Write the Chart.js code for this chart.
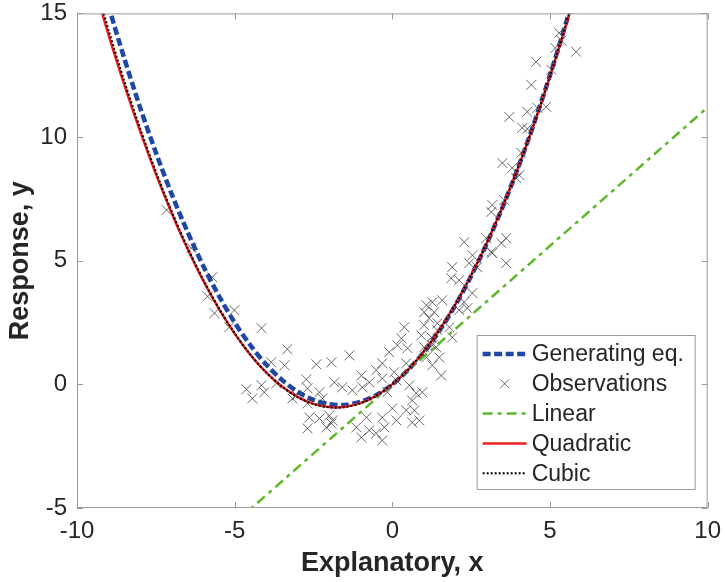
<!DOCTYPE html>
<html>
<head>
<meta charset="utf-8">
<script src="https://cdn.jsdelivr.net/npm/chart.js@4.4.0/dist/chart.umd.min.js"></script>
<style>
  html, body { margin: 0; padding: 0; background: #ffffff; overflow: hidden; }
  #wrap { width: 725px; height: 582px; overflow: hidden; position: relative; }
  #c { position: absolute; left: 0; top: -11px; }
</style>
</head>
<body>
<div id="wrap"><canvas id="c" width="730" height="593"></canvas></div>
<script>
// ---- data ----
const xTicks = [-10, -5, 0, 5, 10];
const yTicks = [-5, 0, 5, 10, 15];
const seriesNames = ['Generating eq.', 'Observations', 'Linear', 'Quadratic', 'Cubic'];

const curveX = [-9.5, -9, -8.5, -8, -7.5, -7, -6.5, -6, -5.5, -5, -4.5, -4, -3.5, -3, -2.5, -2, -1.5, -1, -0.5, 0,
                 0.5, 1, 1.5, 2, 2.5, 3, 3.5, 4, 4.5, 5, 5.5, 6];
const genY   = [17.58, 15.30, 13.18, 11.20, 9.38, 7.70, 6.18, 4.80, 3.58, 2.50, 1.58, 0.80, 0.18, -0.30, -0.63, -0.80, -0.83, -0.70, -0.43, 0.00,
                 0.58, 1.30, 2.18, 3.20, 4.38, 5.70, 7.18, 8.80, 10.58, 12.50, 14.58, 16.80];
const quadY  = [16.29, 14.13, 12.11, 10.24, 8.51, 6.93, 5.49, 4.20, 3.05, 2.05, 1.19, 0.48, -0.09, -0.51, -0.79, -0.92, -0.91, -0.75, -0.45, 0.00,
                 0.59, 1.33, 2.21, 3.24, 4.41, 5.73, 7.19, 8.80, 10.55, 12.45, 14.49, 16.68];
const cubicY = [16.55, 14.33, 12.26, 10.36, 8.60, 7.00, 5.54, 4.24, 3.08, 2.07, 1.20, 0.48, -0.09, -0.52, -0.80, -0.93, -0.92, -0.76, -0.45, 0.00,
                 0.59, 1.33, 2.21, 3.24, 4.41, 5.73, 7.19, 8.80, 10.56, 12.47, 14.52, 16.72];
const linX = [-10, 10];
const linY = [-11.2, 11.2];

const obsX = [-7.16, -6.37, -5.71, -5.86, -5.64, -5.01, -5.17, -4.15, -3.33, -3.84, -3.42, -3.68, -4.15, -4.63, -4.44, -4.06, -3.17,
              -2.41, -1.93, -2.73, -1.84, -2.69, -3.04, -2.31, -2.22, -2.69, -2.63, -2.31, -2.00, -2.69, -2.09, -1.90, -1.36,
              0.38, 1.01, 0.29, 0.92, 0.16, -0.10, 0.48, -0.32, -0.51, 0.44, -0.32, -0.98, -0.73, -1.59, -1.27, -0.95, 0.13, 0.54,
              -0.16, 0.76, 0.95, 0.63, 0.00, 0.44, 0.70, 0.86, -0.32, -0.82, -1.14, -0.73, -0.51, -0.25, 0.13, -0.98, -1.93, 0.63,
              -0.32, 0.06,
              2.28, 2.54, 3.14, 1.90, 2.44, 2.69, 1.87, 2.12, 2.54, 2.28, 1.58, 1.27, 1.08, 1.01, 1.33, 1.17, 1.43, 1.81, 1.90,
              1.43, 1.24, 1.27, 1.01, 1.08, 1.27, 1.55, 2.12, 2.38, 1.49, 1.39,
              5.29, 5.83, 4.56, 5.04, 4.41, 4.28, 4.60, 4.88, 3.71, 4.12, 4.28, 4.09, 3.49, 3.80, 4.03, 3.93, 3.17, 3.55, 3.14,
              2.98, 3.61, 3.46, 3.17, 3.61, 5.36, 5.17];
const obsY = [7.05, 5.51, 4.33, 3.56, 2.88, 3.00, 2.31, 2.27, 1.42, 0.89, 0.77, 0.04, -0.04, -0.20, -0.57, -0.32, -0.57,
              0.81, 0.89, 0.20, 0.08, -0.16, -0.45, -0.32, -0.57, -0.77, -1.34, -1.38, -1.26, -1.78, -1.74, -1.46, 1.17,
              2.31, 2.39, 1.86, 1.98, 1.58, 1.30, 1.46, 0.85, 0.57, 0.85, 0.24, 0.36, 0.08, -0.12, -0.24, -0.12, 0.16, -0.04,
              -0.32, -0.36, -0.32, -0.65, -0.97, -1.05, -1.05, -1.46, -1.34, -1.34, -1.74, -1.86, -1.98, -1.74, -1.46, -2.15, -1.58, -1.54,
              -2.27, 0.49,
              5.75, 5.22, 5.35, 4.74, 4.90, 4.74, 4.29, 4.21, 3.69, 3.32, 3.40, 3.32, 3.20, 2.92, 2.92, 2.67, 2.47, 2.31, 1.90,
              2.19, 1.90, 1.58, 1.50, 1.09, 0.77, 0.36, 3.00, 3.08, 1.09, 1.50,
              14.21, 13.45, 13.04, 12.72, 12.11, 11.02, 11.18, 11.22, 10.81, 10.37, 10.33, 9.36, 8.95, 8.75, 8.46, 8.34, 7.25, 7.45, 6.97,
              5.91, 5.91, 5.71, 5.31, 4.90, 13.90, 13.60];

// ---- build datasets ----
const pts = (xs, ys) => xs.map((x, i) => ({ x: x, y: ys[i] }));
const FONT = '"Liberation Sans", Arial, Helvetica, sans-serif';
const TXT = '#262626';
const AX = '#9a9a9a';

const datasets = [
  { label: seriesNames[0], data: pts(curveX, genY), showLine: true, pointRadius: 0, borderColor: '#1f47a6',
    borderWidth: 4.5, borderDash: [8, 3.5], tension: 0.3, order: 5 },
  { label: seriesNames[1], data: pts(obsX, obsY), showLine: false, pointStyle: 'crossRot', pointRadius: 7,
    borderColor: 'rgba(55,55,55,0.75)', backgroundColor: 'rgba(55,55,55,0.75)', borderWidth: 1, order: 4 },
  { label: seriesNames[2], data: pts(linX, linY), showLine: true, pointRadius: 0, borderColor: '#5cb82a',
    borderWidth: 2.5, borderDash: [10, 5, 4, 5], order: 3 },
  { label: seriesNames[3], data: pts(curveX, quadY), showLine: true, pointRadius: 0, borderColor: '#ee1f1f',
    borderWidth: 2.5, tension: 0.3, order: 2 },
  { label: seriesNames[4], data: pts(curveX, cubicY), showLine: true, pointRadius: 0, borderColor: '#000000',
    borderWidth: 2, borderDash: [2, 2], tension: 0.3, order: 1 }
];

// axes box + inward ticks (MATLAB style)
const framePlugin = {
  id: 'frame',
  afterDatasetsDraw(chart) {
    const { ctx, chartArea: a, scales } = chart;
    ctx.save();
    ctx.strokeStyle = AX;
    ctx.lineWidth = 1;
    ctx.setLineDash([]);
    ctx.strokeRect(a.left + 0.5, a.top + 0.5, a.right - a.left - 1, a.bottom - a.top - 1);
    const tl = 6;
    ctx.beginPath();
    xTicks.forEach(v => {
      const px = Math.round(scales.x.getPixelForValue(v)) + 0.5;
      ctx.moveTo(px, a.bottom); ctx.lineTo(px, a.bottom - tl);
      ctx.moveTo(px, a.top); ctx.lineTo(px, a.top + tl);
    });
    yTicks.forEach(v => {
      const py = Math.round(scales.y.getPixelForValue(v)) + 0.5;
      ctx.moveTo(a.left, py); ctx.lineTo(a.left + tl, py);
      ctx.moveTo(a.right, py); ctx.lineTo(a.right - tl, py);
    });
    ctx.stroke();
    ctx.restore();
  }
};

// legend box inside the plot, lower right
const legendPlugin = {
  id: 'boxLegend',
  afterDraw(chart) {
    const { ctx, chartArea: a } = chart;
    const w = 218, h = 154;
    const x0 = a.right - 13 - w, y0 = a.bottom - 19 - h;
    ctx.save();
    ctx.fillStyle = '#ffffff';
    ctx.fillRect(x0, y0, w, h);
    ctx.strokeStyle = AX;
    ctx.lineWidth = 1;
    ctx.strokeRect(x0 + 0.5, y0 + 0.5, w, h);
    ctx.font = '23px ' + FONT;
    ctx.textBaseline = 'middle';
    ctx.fillStyle = TXT;
    const rowH = 29.8;
    chart.data.datasets.forEach((ds, i) => {
      const cy = y0 + 19 + i * rowH;
      const sx0 = x0 + 6, sx1 = x0 + 50;
      if (ds.showLine) {
        ctx.save();
        ctx.strokeStyle = ds.borderColor;
        ctx.lineWidth = ds.borderWidth;
        ctx.setLineDash(ds.borderDash || []);
        ctx.beginPath();
        ctx.moveTo(sx0, cy); ctx.lineTo(sx1, cy);
        ctx.stroke();
        ctx.restore();
      } else {
        const cx = (sx0 + sx1) / 2, r = 4.5;
        ctx.save();
        ctx.strokeStyle = ds.borderColor;
        ctx.lineWidth = 1;
        ctx.beginPath();
        ctx.moveTo(cx - r, cy - r); ctx.lineTo(cx + r, cy + r);
        ctx.moveTo(cx - r, cy + r); ctx.lineTo(cx + r, cy - r);
        ctx.stroke();
        ctx.restore();
      }
      ctx.fillText(ds.label, x0 + 55, cy + 1);
    });
    ctx.restore();
  }
};

new Chart(document.getElementById('c'), {
  type: 'scatter',
  data: { datasets: datasets },
  plugins: [framePlugin, legendPlugin],
  options: {
    responsive: false,
    animation: false,
    devicePixelRatio: 1,
    layout: { padding: { left: 0, right: 12, top: 0, bottom: 0 } },
    plugins: { legend: { display: false }, tooltip: { enabled: false } },
    scales: {
      x: {
        type: 'linear', min: -10, max: 10,
        afterBuildTicks: s => { s.ticks = xTicks.map(v => ({ value: v })); },
        afterFit: s => { s.height = 74; },
        grid: { display: false, drawTicks: false },
        border: { display: false },
        ticks: { color: TXT, font: { family: FONT, size: 24 }, padding: 9, maxRotation: 0 },
        title: { display: true, text: 'Explanatory, x', color: TXT,
                 font: { family: FONT, size: 27, weight: 'bold' }, padding: { top: 0, bottom: 2 } }
      },
      y: {
        type: 'linear', min: -5, max: 15,
        afterBuildTicks: s => { s.ticks = yTicks.map(v => ({ value: v })); },
        afterFit: s => { s.width = 77; },
        grid: { display: false, drawTicks: false },
        border: { display: false },
        ticks: { color: TXT, font: { family: FONT, size: 24 }, padding: 10 },
        title: { display: true, text: 'Response, y', color: TXT,
                 font: { family: FONT, size: 27, weight: 'bold' }, padding: { top: 4, bottom: 0 } }
      }
    }
  }
});
</script>
</body>
</html>
